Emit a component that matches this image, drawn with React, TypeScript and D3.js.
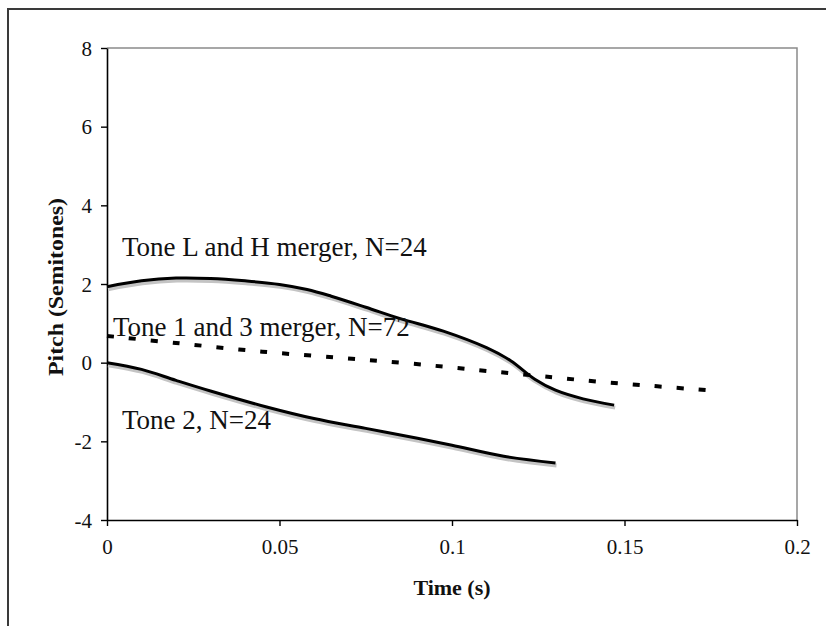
import { useEffect, useRef } from "react"
import * as d3 from "d3"

// pitch contours (time in s, pitch in semitones)
const toneLHTime = [0, 0.01, 0.02, 0.03, 0.04, 0.05, 0.058, 0.065, 0.075, 0.085, 0.0975, 0.11, 0.117, 0.124, 0.13, 0.138, 0.147]
const toneLHPitch = [1.93, 2.08, 2.15, 2.14, 2.08, 1.99, 1.86, 1.69, 1.41, 1.12, 0.8, 0.38, 0.05, -0.42, -0.7, -0.92, -1.08]

const tone13Time = [0, 0.02, 0.045, 0.071, 0.085, 0.0975, 0.11, 0.129, 0.142, 0.155, 0.168, 0.174]
const tone13Pitch = [0.68, 0.5, 0.28, 0.1, 0.0, -0.1, -0.21, -0.37, -0.48, -0.57, -0.66, -0.7]

const tone2Time = [0, 0.01, 0.02, 0.03, 0.046, 0.06, 0.075, 0.09, 0.1, 0.115, 0.13]
const tone2Pitch = [0, -0.17, -0.45, -0.72, -1.12, -1.42, -1.67, -1.92, -2.1, -2.38, -2.55]

const xTicks = [0, 0.05, 0.1, 0.15, 0.2]
const yTicks = [-4, -2, 0, 2, 4, 6, 8]

const labelLH = "Tone L and H merger, N=24"
const label13 = "Tone 1 and 3 merger, N=72"
const label2 = "Tone 2, N=24"

const serif = "'Liberation Serif', 'Times New Roman', serif"

const App = () => {
    const ref = useRef(null)
    const left = 107
    const right = 797
    const top = 48
    const bottom = 520

    const x = d3.scaleLinear().domain([0, 0.2]).range([left, right])
    const y = d3.scaleLinear().domain([-4, 8]).range([bottom, top])

    useEffect(() => {
        const svg = d3.select(ref.current)
        svg.selectAll("*").remove()

        // outer frame (runs off the right and bottom)
        svg.append("rect")
            .attr("x", 8).attr("y", 9)
            .attr("width", 900).attr("height", 700)
            .attr("fill", "none").attr("stroke", "#3a3a3a").attr("stroke-width", 2)

        // grey top / right plot border
        svg.append("path")
            .attr("d", `M${left},${top}H${right}V${bottom}`)
            .attr("fill", "none").attr("stroke", "#8a8a8a").attr("stroke-width", 1.5)

        const xAxis = svg.append("g")
            .attr("transform", `translate(0,${bottom})`)
            .call(d3.axisBottom(x).tickValues(xTicks).tickSize(6).tickSizeOuter(0).tickPadding(13).tickFormat(d => String(d)))
        const yAxis = svg.append("g")
            .attr("transform", `translate(${left},0)`)
            .call(d3.axisLeft(y).tickValues(yTicks).tickSize(6).tickSizeOuter(0).tickPadding(9).tickFormat(d => String(d)))

        ;[xAxis, yAxis].forEach(a => {
            a.select(".domain").attr("stroke", "#000").attr("stroke-width", 1.6)
            a.selectAll(".tick line").attr("stroke", "#000").attr("stroke-width", 1.4)
            a.selectAll(".tick text")
                .attr("fill", "#111")
                .attr("font-family", serif)
                .attr("font-size", 21)
        })
        yAxis.selectAll(".tick text").attr("dy", "0.34em")

        const line = d3.line()
            .x(d => x(d[0]))
            .y(d => y(d[1]))
            .curve(d3.curveCatmullRom.alpha(0.5))

        const lh = toneLHTime.map((t, i) => [t, toneLHPitch[i]])
        const t13 = tone13Time.map((t, i) => [t, tone13Pitch[i]])
        const t2 = tone2Time.map((t, i) => [t, tone2Pitch[i]])

        // soft shadows under the solid curves
        ;[lh, t2].forEach(pts => {
            svg.append("path")
                .attr("d", line(pts))
                .attr("fill", "none")
                .attr("stroke", "#c4c4c4")
                .attr("stroke-width", 4)
                .attr("transform", "translate(1,2.5)")
        })
        ;[lh, t2].forEach(pts => {
            svg.append("path")
                .attr("d", line(pts))
                .attr("fill", "none")
                .attr("stroke", "#000")
                .attr("stroke-width", 3)
        })
        svg.append("path")
            .attr("d", line(t13))
            .attr("fill", "none")
            .attr("stroke", "#000")
            .attr("stroke-width", 4)
            .attr("stroke-dasharray", "7 15")

        const notes = [
            { text: labelLH, x: 122, y: 256 },
            { text: label13, x: 113, y: 336 },
            { text: label2, x: 122, y: 429 },
        ]
        svg.selectAll("text.note")
            .data(notes)
            .enter()
            .append("text")
            .attr("class", "note")
            .attr("x", d => d.x)
            .attr("y", d => d.y)
            .attr("font-family", serif)
            .attr("font-size", 27)
            .attr("fill", "#111")
            .text(d => d.text)

        svg.append("text")
            .attr("x", 452)
            .attr("y", 595)
            .attr("text-anchor", "middle")
            .attr("font-family", serif)
            .attr("font-weight", "bold")
            .attr("font-size", 22)
            .attr("fill", "#111")
            .text("Time (s)")

        svg.append("text")
            .attr("transform", "translate(63,287) rotate(-90)")
            .attr("text-anchor", "middle")
            .attr("font-family", serif)
            .attr("font-weight", "bold")
            .attr("font-size", 20)
            .attr("textLength", 178)
            .attr("lengthAdjust", "spacingAndGlyphs")
            .attr("fill", "#111")
            .text("Pitch (Semitones)")
    })

    return (
        <svg ref={ref} width={826} height={626}
            style={{ position: "absolute", left: 0, top: 0, background: "#fff" }} />
    )
}

export default App
